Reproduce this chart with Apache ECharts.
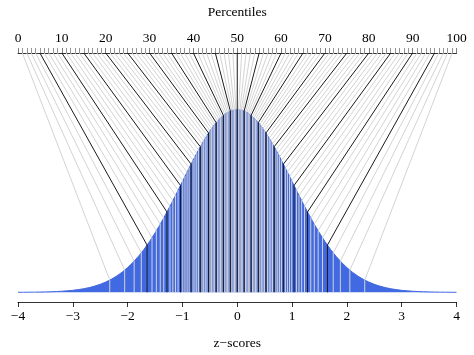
<!DOCTYPE html>
<html>
<head>
<meta charset="utf-8">
<script src="https://cdn.jsdelivr.net/npm/echarts@6/dist/echarts.min.js"></script>
<style>html,body{margin:0;padding:0;background:#fff}#c{width:474px;height:355px}</style>
</head>
<body>
<div id="c"></div>
<script>
// Percentiles 1..99 shown on the top axis
var percentiles = [1,2,3,4,5,6,7,8,9,10,11,12,13,14,15,16,17,18,19,20,
21,22,23,24,25,26,27,28,29,30,31,32,33,34,35,36,37,38,39,40,
41,42,43,44,45,46,47,48,49,50,51,52,53,54,55,56,57,58,59,60,
61,62,63,64,65,66,67,68,69,70,71,72,73,74,75,76,77,78,79,80,
81,82,83,84,85,86,87,88,89,90,91,92,93,94,95,96,97,98,99];
// z-score of each percentile
var zScores = [-2.326,-2.054,-1.881,-1.751,-1.645,-1.555,-1.476,-1.405,-1.341,-1.282,
-1.227,-1.175,-1.126,-1.080,-1.036,-0.994,-0.954,-0.915,-0.878,-0.842,
-0.806,-0.772,-0.739,-0.706,-0.674,-0.643,-0.613,-0.583,-0.553,-0.524,
-0.496,-0.468,-0.440,-0.412,-0.385,-0.358,-0.332,-0.305,-0.279,-0.253,
-0.228,-0.202,-0.176,-0.151,-0.126,-0.100,-0.075,-0.050,-0.025,0,
0.025,0.050,0.075,0.100,0.126,0.151,0.176,0.202,0.228,0.253,
0.279,0.305,0.332,0.358,0.385,0.412,0.440,0.468,0.496,0.524,
0.553,0.583,0.613,0.643,0.674,0.706,0.739,0.772,0.806,0.842,
0.878,0.915,0.954,0.994,1.036,1.080,1.126,1.175,1.227,1.282,
1.341,1.405,1.476,1.555,1.645,1.751,1.881,2.054,2.326];
// height of the curve at each of those z-scores
var zDensity = [0.0267,0.0484,0.0680,0.0861,0.1031,0.1191,0.1342,0.1487,0.1623,0.1754,
0.1879,0.2000,0.2116,0.2227,0.2333,0.2434,0.2531,0.2625,0.2714,0.2799,
0.2883,0.2962,0.3036,0.3110,0.3179,0.3244,0.3306,0.3366,0.3424,0.3478,
0.3528,0.3576,0.3621,0.3665,0.3705,0.3742,0.3776,0.3808,0.3837,0.3864,
0.3887,0.3909,0.3928,0.3944,0.3958,0.3970,0.3978,0.3984,0.3988,0.3989,
0.3988,0.3984,0.3978,0.3970,0.3958,0.3944,0.3928,0.3909,0.3887,0.3864,
0.3837,0.3808,0.3776,0.3742,0.3705,0.3665,0.3621,0.3576,0.3528,0.3478,
0.3424,0.3366,0.3306,0.3244,0.3179,0.3110,0.3036,0.2962,0.2883,0.2799,
0.2714,0.2625,0.2531,0.2434,0.2333,0.2227,0.2116,0.2000,0.1879,0.1754,
0.1623,0.1487,0.1342,0.1191,0.1031,0.0861,0.0680,0.0484,0.0267];
// curve outline
var curveZ = [-4.0,-3.9,-3.8,-3.7,-3.6,-3.5,-3.4,-3.3,-3.2,-3.1,
-3.0,-2.9,-2.8,-2.7,-2.6,-2.5,-2.4,-2.3,-2.2,-2.1,
-2.0,-1.9,-1.8,-1.7,-1.6,-1.5,-1.4,-1.3,-1.2,-1.1,
-1.0,-0.9,-0.8,-0.7,-0.6,-0.5,-0.4,-0.3,-0.2,-0.1,
0.0,0.1,0.2,0.3,0.4,0.5,0.6,0.7,0.8,0.9,
1.0,1.1,1.2,1.3,1.4,1.5,1.6,1.7,1.8,1.9,
2.0,2.1,2.2,2.3,2.4,2.5,2.6,2.7,2.8,2.9,
3.0,3.1,3.2,3.3,3.4,3.5,3.6,3.7,3.8,3.9,4.0];
var curveDensity = [0.0001,0.0002,0.0003,0.0004,0.0006,0.0009,0.0012,0.0017,0.0024,0.0033,
0.0044,0.0060,0.0079,0.0104,0.0136,0.0175,0.0224,0.0283,0.0355,0.0440,
0.0540,0.0656,0.0790,0.0940,0.1109,0.1295,0.1497,0.1714,0.1942,0.2179,
0.2420,0.2661,0.2897,0.3123,0.3332,0.3521,0.3683,0.3814,0.3910,0.3970,
0.3989,
0.3970,0.3910,0.3814,0.3683,0.3521,0.3332,0.3123,0.2897,0.2661,0.2420,
0.2179,0.1942,0.1714,0.1497,0.1295,0.1109,0.0940,0.0790,0.0656,0.0540,
0.0440,0.0355,0.0283,0.0224,0.0175,0.0136,0.0104,0.0079,0.0060,0.0044,
0.0033,0.0024,0.0017,0.0012,0.0009,0.0006,0.0004,0.0003,0.0002,0.0001];

var Y_MIN = -0.0211, Y_MAX = 0.5224;
var FONT = '"Liberation Serif", "DejaVu Serif", serif';

var chart = echarts.init(document.getElementById('c'), null, {renderer: 'canvas'});

var curveData = curveZ.map(function (z, i) { return [z, curveDensity[i]]; });
var grayData = [], blackData = [];
percentiles.forEach(function (p, i) {
  var item = [zScores[i], zDensity[i], p];
  if (p % 5 === 0) blackData.push(item); else grayData.push(item);
});

function makeRender(color, width) {
  return function (params, api) {
    var z = api.value(0), d = api.value(1), p = api.value(2);
    var top = api.coord([z, Y_MAX]);
    var xTop = chart.convertToPixel({xAxisIndex: 1}, p);
    var onCurve = api.coord([z, d]);
    var base = api.coord([z, 0]);
    return {
      type: 'polyline',
      shape: {points: [[xTop, top[1]], onCurve, base]},
      style: {stroke: color, lineWidth: width, fill: null}
    };
  };
}

var baseOption = {
  animation: false,
  grid: {left: 18, right: 17.5, top: 52, bottom: 53},
  xAxis: [{
    type: 'value', position: 'bottom', min: -4, max: 4, interval: 1,
    axisLine: {show: true, onZero: false, lineStyle: {color: '#000', width: 0.8}},
    axisTick: {show: true, length: 5, lineStyle: {color: '#000', width: 0.8}},
    axisLabel: {color: '#000', fontFamily: FONT, fontSize: 13.5, margin: 7,
      formatter: function (v) { return String(v).replace('-', '\u2212'); }},
    splitLine: {show: false},
    name: 'z\u2212scores', nameLocation: 'middle', nameGap: 34,
    nameTextStyle: {color: '#000', fontFamily: FONT, fontSize: 13.5}
  }, {
    type: 'value', position: 'top', min: 0, max: 100, interval: 10,
    axisLine: {show: true, onZero: false, lineStyle: {color: '#000', width: 0.8}},
    axisTick: {show: true, length: 5, lineStyle: {color: '#444', width: 0.7}},
    minorTick: {show: true, splitNumber: 10, length: 5, lineStyle: {color: '#666', width: 0.7}},
    axisLabel: {color: '#000', fontFamily: FONT, fontSize: 13.5, margin: 8},
    splitLine: {show: false},
    name: 'Percentiles', nameLocation: 'middle', nameGap: 34,
    nameTextStyle: {color: '#000', fontFamily: FONT, fontSize: 13.5}
  }],
  yAxis: {type: 'value', min: Y_MIN, max: Y_MAX, show: false, splitLine: {show: false}},
  series: [{
    type: 'line', xAxisIndex: 0, data: curveData, symbol: 'none', z: 1,
    lineStyle: {color: '#4169E1', width: 1},
    areaStyle: {color: '#4169E1', opacity: 1}
  }]
};
chart.setOption(baseOption);

chart.setOption({
  series: [baseOption.series[0], {
    type: 'custom', xAxisIndex: 0, data: grayData, z: 2, silent: true,
    renderItem: makeRender('#d3d3d3', 1)
  }, {
    type: 'custom', xAxisIndex: 0, data: blackData, z: 3, silent: true,
    renderItem: makeRender('#1a1a1a', 1)
  }]
});
</script>
</body>
</html>
